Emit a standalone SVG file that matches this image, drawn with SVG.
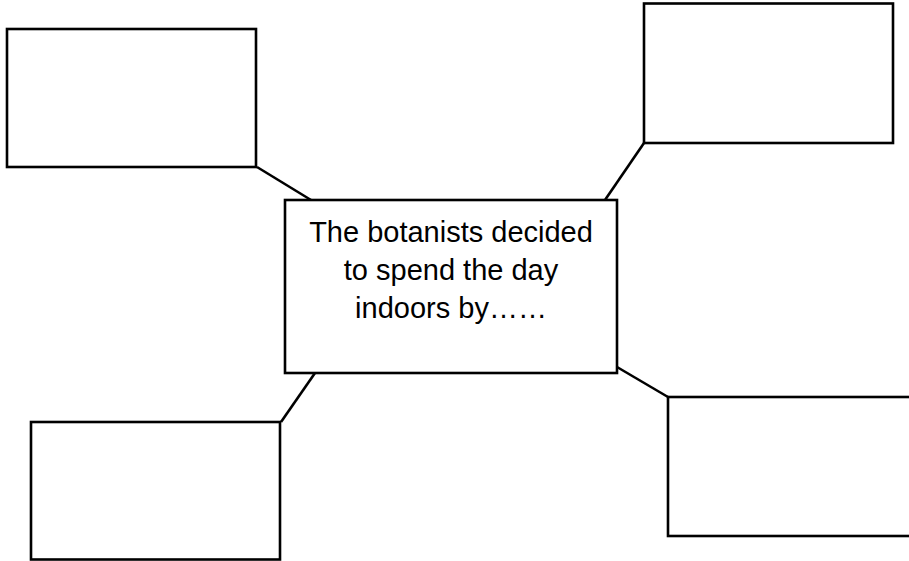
<svg xmlns="http://www.w3.org/2000/svg" width="909" height="561" viewBox="0 0 909 561">
<style>
.box{fill:#fff;stroke:#000;stroke-width:2.6}
.conn{stroke:#000;stroke-width:2.6;fill:none}
.lbl{font-family:"Liberation Sans",Arial,sans-serif;font-size:29px;fill:#000;text-anchor:middle}
</style>
<rect width="909" height="561" fill="#fff"/>
<g id="connectors">
<line class="conn" x1="257" y1="167" x2="311" y2="200"/>
<line class="conn" x1="644" y1="143" x2="605" y2="200"/>
<line class="conn" x1="315" y1="373" x2="281" y2="422"/>
<line class="conn" x1="617" y1="367" x2="668" y2="397"/>
</g>
<g id="node-center">
<rect class="box" x="285" y="200" width="332" height="173"/>
<text class="lbl" x="451" y="242">The botanists decided</text>
<text class="lbl" x="451" y="280">to spend the day</text>
<text class="lbl" x="451" y="318">indoors by……</text>
</g>
<g id="node-tl"><rect class="box" x="7" y="29" width="249" height="138"/></g>
<g id="node-tr"><rect class="box" x="644" y="3.5" width="249" height="139.5"/></g>
<g id="node-bl"><rect class="box" x="31" y="422" width="249" height="137.5"/></g>
<g id="node-br"><rect class="box" x="668" y="397" width="260" height="139"/></g>
</svg>
